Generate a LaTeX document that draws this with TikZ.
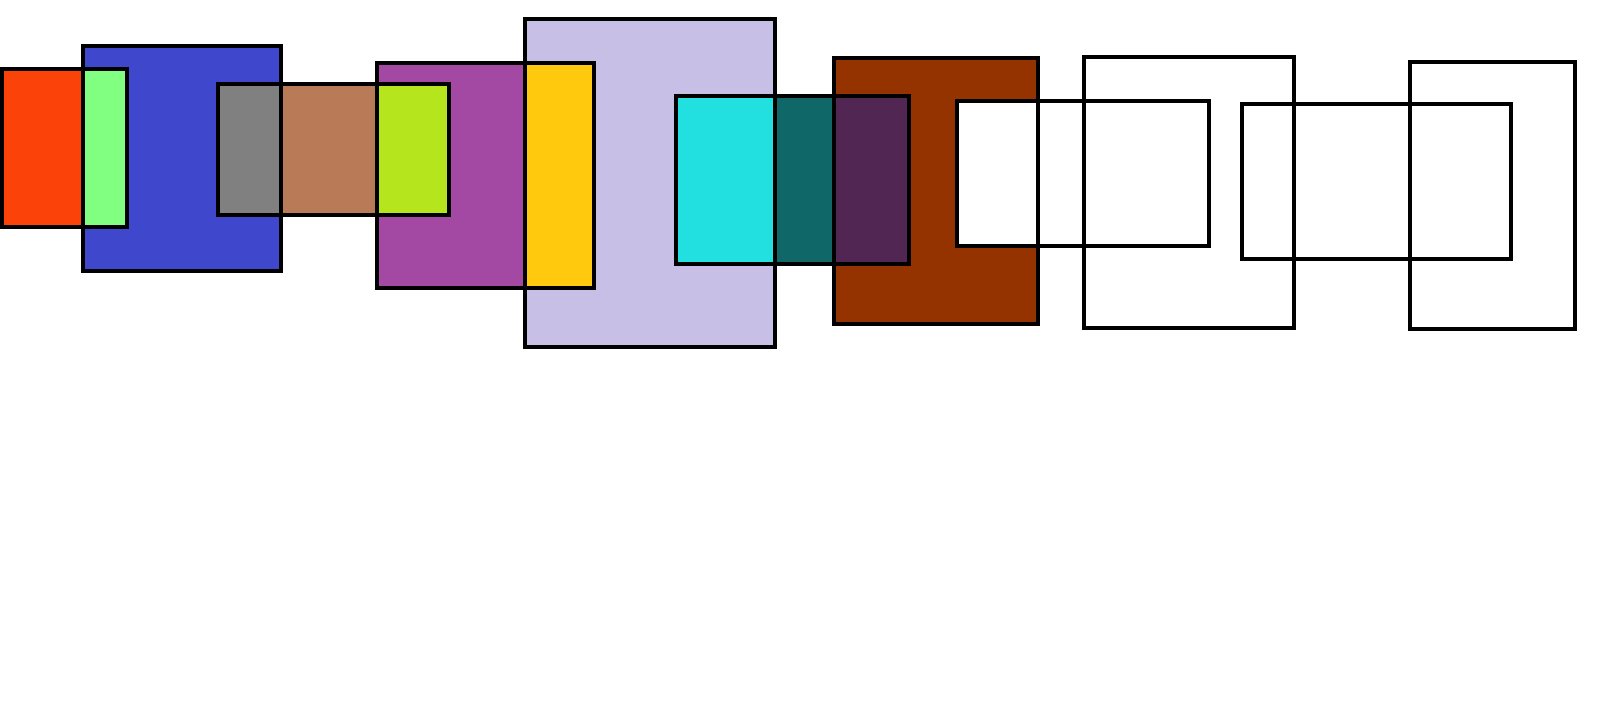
\documentclass[tikz,border=0pt]{standalone}
\definecolor{cRed}{HTML}{FA4209}
\definecolor{cGreen}{HTML}{80FF80}
\definecolor{cBlue}{HTML}{3F48CC}
\definecolor{cGrey}{HTML}{808080}
\definecolor{cBrown}{HTML}{B97A57}
\definecolor{cLime}{HTML}{B5E61D}
\definecolor{cPurple}{HTML}{A349A4}
\definecolor{cGold}{HTML}{FFC90E}
\definecolor{cLav}{HTML}{C8BFE7}
\definecolor{cCyan}{HTML}{21E0DF}
\definecolor{cTeal}{HTML}{0F6767}
\definecolor{cPlum}{HTML}{522652}
\definecolor{cRust}{HTML}{943200}
\begin{document}
\begin{tikzpicture}[x=0.5pt,y=-0.5pt,
  outline/.style={draw=black,line width=2pt,line join=miter}]
\fill[white] (0,0) rectangle (1600,718);
\useasboundingbox (0,0) rectangle (1600,718);
% fills
\fill[cBlue] (83,46) rectangle (281.3,270.7);
\fill[cRed] (2,69.3) rectangle (127.4,226.7);
\fill[cGreen] (83,69.3) rectangle (127.4,226.7);
\fill[cPurple] (377,62.7) rectangle (593.7,287.8);
\fill[cLav] (524.8,19) rectangle (774.8,347.3);
\fill[cGold] (524.8,62.7) rectangle (593.7,287.8);
\fill[cBrown] (218.3,84) rectangle (448.7,215.3);
\fill[cGrey] (218.3,84) rectangle (281.3,215.3);
\fill[cLime] (377,84) rectangle (448.7,215.3);
\fill[cRust] (834.4,58) rectangle (1037.6,324.3);
\fill[cTeal] (675.6,95.7) rectangle (909.1,264);
\fill[cCyan] (675.6,95.7) rectangle (774.8,264);
\fill[cPlum] (834.4,95.7) rectangle (909.1,264);
\fill[white] (957.3,100.7) rectangle (1208.8,246);
% outlines
\draw[outline] (2,69.3) rectangle (127.4,226.7);
\draw[outline] (83,46) rectangle (281.3,270.7);
\draw[outline] (218.3,84) rectangle (448.7,215.3);
\draw[outline] (377,62.7) rectangle (593.7,287.8);
\draw[outline] (524.8,19) rectangle (774.8,347.3);
\draw[outline] (675.6,95.7) rectangle (909.1,264);
\draw[outline] (834.4,58) rectangle (1037.6,324.3);
\draw[outline] (957.3,100.7) rectangle (1208.8,246);
\draw[outline] (1083.8,57) rectangle (1293.5,328);
\draw[outline] (1241.5,103.7) rectangle (1511.1,258.7);
\draw[outline] (1409.9,62) rectangle (1574.8,329);
\end{tikzpicture}
\end{document}
